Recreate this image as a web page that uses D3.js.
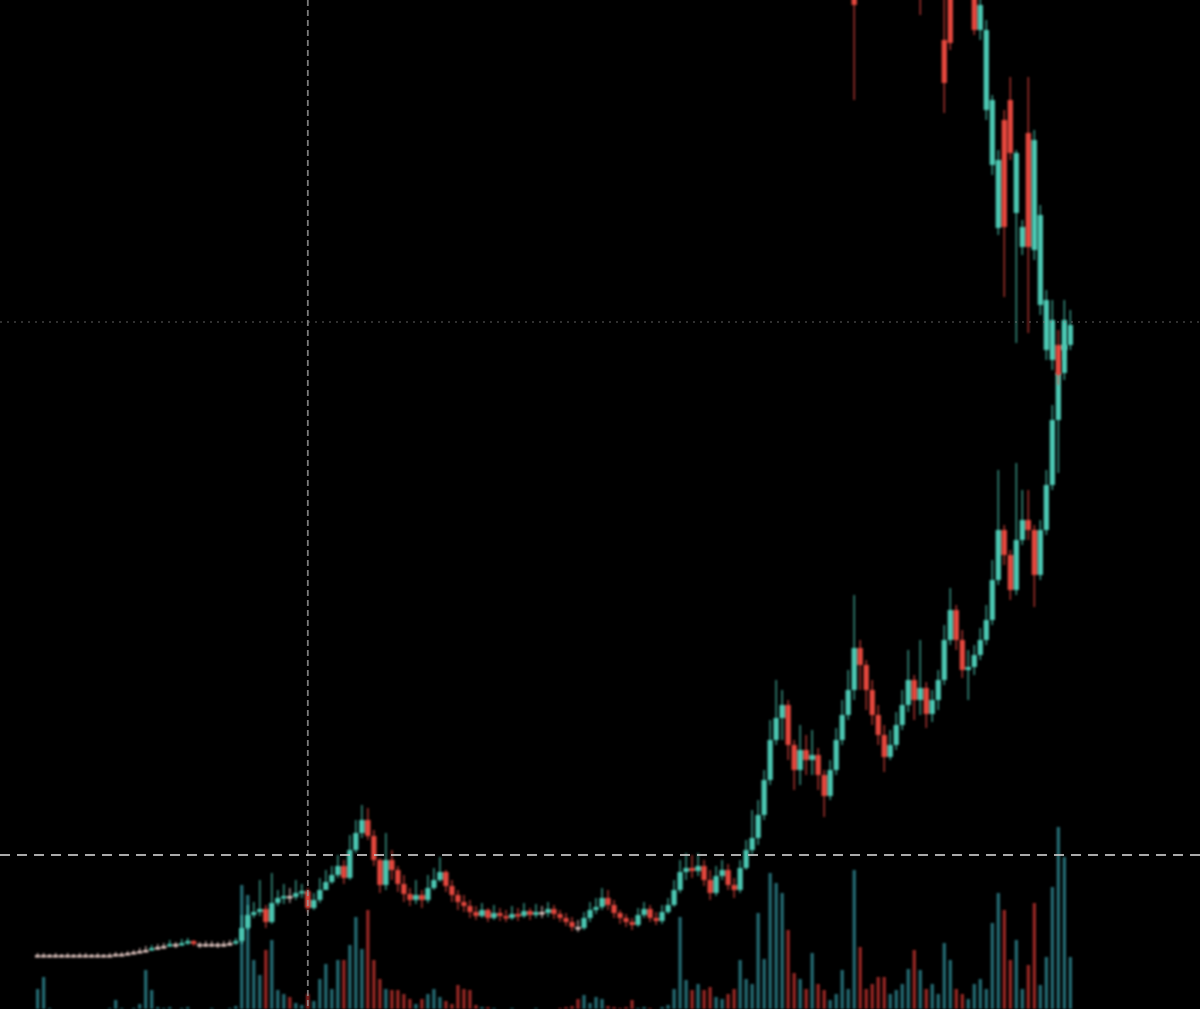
<!DOCTYPE html>
<html><head><meta charset="utf-8">
<script src="https://cdn.jsdelivr.net/npm/d3@7"></script>
<style>html,body{margin:0;padding:0;background:#000;overflow:hidden}</style>
</head><body>
<svg id="chart" width="1200" height="1009"></svg>
<script>
// ---------- DATA ----------
const periods = d3.range(1, 174); // 173 sessions

const closes = [4.5,4.5,4.5,4.5,4.4,4.5,4.5,4.5,4.5,4.4,4.5,4.5,4.5,4.6,4.6,4.7,4.8,4.9,5.0,5.2,
5.3,5.4,5.6,5.5,5.7,5.9,5.6,5.5,5.6,5.6,5.5,5.6,5.7,5.9,7.2,8.5,8.8,9.1,7.8,9.7,
10.2,10.4,10.3,10.7,10.9,9.2,10.0,11.0,11.8,12.5,13.4,12.2,15.0,16.7,18.0,16.4,14.0,11.5,14.0,13.0,
11.6,10.6,10.0,10.5,10.0,11.2,12.0,12.8,11.4,10.5,9.8,9.4,8.8,8.4,9.0,8.2,8.7,8.4,8.2,8.6,
8.4,8.9,8.5,8.8,8.7,9.1,8.6,8.2,7.8,7.3,7.2,8.2,9.0,9.3,10.2,9.5,8.7,8.2,7.8,7.5,
8.5,9.1,8.2,7.9,8.8,9.5,11.0,12.8,13.2,12.9,13.4,12.0,10.7,12.4,13.0,11.5,11.0,13.2,15.0,16.2,
18.5,22.0,26.0,28.2,29.5,25.5,23.0,25.0,24.0,24.5,22.5,20.4,23.0,26.0,28.5,31.0,35.2,33.5,31.0,28.5,
26.5,24.3,25.5,27.5,29.5,32.0,30.0,31.2,28.6,30.0,32.0,36.0,39.0,36.0,33.0,33.3,34.5,36.0,38.0,42.0,
47.0,44.5,41.0,46.0,48.0,47.0,42.5,47.0,51.5,58.0,62.7,65.5,67.5];

const highs = [4.7,4.7,4.6,4.7,4.6,4.7,4.6,4.7,4.7,4.6,4.7,4.6,4.7,4.8,4.8,4.9,5.0,5.2,5.4,5.5,
5.6,5.7,6.0,5.8,6.1,6.2,6.0,5.8,5.9,5.9,5.8,5.9,6.0,6.2,8.5,9.5,9.8,12.0,9.5,12.7,
11.0,11.6,11.2,12.0,11.6,11.2,10.7,12.2,13.0,13.4,14.5,14.0,16.5,18.0,19.5,19.2,17.0,14.2,16.7,15.0,
13.4,12.5,11.2,12.0,11.0,12.5,13.2,14.3,13.0,12.0,11.0,10.5,10.0,9.4,9.7,9.2,9.5,9.2,9.0,9.4,
9.2,9.7,9.2,9.6,9.4,9.8,9.5,9.0,8.7,8.3,8.0,8.8,9.8,10.2,11.2,11.0,10.0,9.0,8.6,8.2,
9.2,9.8,9.5,8.8,9.5,10.2,12.0,14.0,14.7,14.5,14.7,14.0,13.0,13.4,14.0,13.6,12.2,14.0,16.0,19.0,
20.0,23.0,28.0,32.0,31.0,30.0,26.0,27.5,26.5,27.0,25.2,23.0,24.0,27.2,30.0,33.0,40.5,36.0,34.0,32.0,
29.5,27.5,27.0,28.8,31.0,35.0,32.5,36.0,31.8,31.0,33.0,37.5,41.2,39.5,37.0,35.0,35.5,37.2,39.5,44.0,
53.0,47.5,45.0,53.7,51.0,51.0,47.5,48.0,53.0,59.5,64.0,67.5,69.0];

const lows = [4.3,4.3,4.4,4.3,4.3,4.3,4.4,4.3,4.3,4.3,4.3,4.4,4.3,4.4,4.4,4.5,4.6,4.7,4.8,4.9,
5.0,5.1,5.3,5.2,5.4,5.5,5.4,5.2,5.3,5.3,5.2,5.3,5.4,5.5,5.6,7.0,8.2,8.4,7.2,7.6,
9.4,9.6,9.7,10.0,10.2,8.8,9.0,9.7,11.0,11.6,12.2,11.6,12.0,14.7,16.2,16.0,13.4,10.7,11.0,12.0,
10.8,9.8,9.4,9.6,9.2,9.7,11.0,11.8,10.8,9.8,9.0,8.8,8.2,8.0,8.2,7.8,8.0,7.9,7.8,8.0,
7.9,8.2,8.0,8.2,8.2,8.3,8.1,7.8,7.4,6.9,6.8,7.0,7.8,8.6,9.0,9.0,8.2,7.6,7.3,7.0,
7.3,8.2,7.8,7.5,7.6,8.6,9.3,10.7,12.0,12.2,12.4,11.4,10.0,10.4,12.0,11.0,10.2,10.7,13.0,14.5,
15.5,18.0,21.5,25.5,26.0,24.0,21.0,21.5,22.5,22.5,21.0,18.3,20.0,22.5,25.5,28.0,30.0,31.0,29.0,27.5,
25.5,22.8,24.0,25.0,27.0,28.8,28.0,28.5,27.2,27.8,29.0,31.5,35.5,35.0,32.2,30.0,32.5,34.0,35.5,37.5,
41.5,43.5,40.0,40.5,45.5,46.0,39.3,42.0,46.5,51.0,52.7,62.0,65.0];

const volumes = [2.0,3.2,0.1,0.0,0.0,0.0,0.0,0.0,0.0,0.0,0.0,0.0,0.1,0.9,0.1,0.0,0.1,0.5,3.9,1.9,
0.2,0.1,0.2,0.0,0.1,0.2,0.0,0.0,0.0,0.1,0.0,0.0,0.1,0.3,12.4,11.4,4.9,3.4,5.9,6.9,
1.9,1.5,1.2,0.6,0.4,1.5,0.8,3.0,4.5,2.0,4.9,4.9,6.4,9.2,6.0,9.9,4.9,3.0,2.0,1.9,
1.9,1.5,1.0,0.5,1.0,1.5,2.0,1.2,0.8,0.5,2.4,2.0,1.9,0.4,0.2,0.2,0.1,0.0,0.0,0.1,
0.0,0.0,0.0,0.1,0.0,0.0,0.0,0.1,0.2,0.3,1.0,1.4,0.6,1.2,1.0,0.3,0.2,0.1,0.2,0.9,
0.1,0.2,0.1,0.0,0.2,0.4,2.0,9.2,2.9,1.9,2.5,1.9,2.2,1.2,1.0,1.5,2.0,4.9,3.0,2.5,
9.6,5.0,13.6,12.6,11.6,7.9,3.6,3.0,2.0,5.6,2.5,1.9,0.9,1.5,3.9,2.0,13.9,6.2,2.0,2.5,
3.2,3.2,1.5,1.9,2.5,4.0,5.9,3.9,2.0,2.5,1.5,6.6,4.9,2.0,1.5,1.0,2.5,3.0,2.0,8.6,
11.6,9.9,4.9,6.9,2.0,4.4,10.6,2.4,5.2,12.2,18.2,15.2,5.2];

// second (upper) trace, sessions where it is visible
const upperPeriods = [137,148,152,153,157,158,159,160,161,162,163,164,165,166,167,168,169,170,171,172];
const upperOpen  = [101.0,104.0,96.0,101.0,100.5,97.0,89.0,83.5,77.2,88.0,90.0,78.7,75.3,86.7,75.0,69.5,65.0,64.0,65.5,65.0];
const upperClose = [99.5,102.0,91.7,95.7,97.0,99.5,97.0,90.0,84.0,77.3,84.7,84.7,77.3,75.3,86.0,78.5,70.0,68.0,62.5,68.0];
const upperHigh  = [102.0,105.0,101.0,102.0,102.0,101.0,98.0,90.5,85.0,89.0,92.3,85.0,78.0,92.3,87.0,79.5,71.0,70.0,67.0,70.0];
const upperLow   = [90.0,98.5,88.7,95.0,96.5,96.0,88.0,82.5,76.5,70.3,84.0,65.7,74.5,66.7,74.0,68.5,64.0,63.0,61.5,64.0];

const crosshairPeriod = 46;
const dashedLevel = 14.5;
const dottedLevel = 67.8;

// ---------- BUILD ----------
const main = periods.map((p, i) => ({
  p, o: i === 0 ? closes[0] : closes[i - 1], c: closes[i], h: highs[i], l: lows[i], v: volumes[i]
}));
const upper = upperPeriods.map((p, i) => ({
  p, o: upperOpen[i], c: upperClose[i], h: upperHigh[i], l: upperLow[i]
}));

const svg = d3.select("#chart");
svg.append("rect").attr("width", 1200).attr("height", 1009).attr("fill", "#000");

const x = d3.scaleBand().domain(periods).range([35, 1073]).paddingInner(0.12);
const y = d3.scaleLinear().domain([0, 100]).range([1000, 0]);
const vy = d3.scaleLinear().domain([0, 20]).range([1009, 809]);
const cx = p => x(p) + x.bandwidth() / 2;

const UP = "#4cc8b2", DOWN = "#e4463d", FLAT = "#e2c7c2";
const VUP = "#2a7a83", VDOWN = "#ad2b29";
const col = d => Math.abs(d.c - d.o) < 0.15 ? FLAT : (d.c >= d.o ? UP : DOWN);

const defs = svg.append("defs");
defs.append("filter").attr("id", "soft").append("feGaussianBlur").attr("stdDeviation", 0.9);

// volume
const vw = x.bandwidth() * 0.6;
svg.append("g").attr("filter", "url(#soft)")
  .selectAll("rect").data(main.filter(d => d.v > 0)).join("rect")
  .attr("x", d => cx(d.p) - vw / 2)
  .attr("width", vw)
  .attr("y", d => vy(d.v))
  .attr("height", d => vy(0) - vy(d.v))
  .attr("fill", d => d.c >= d.o ? VUP : VDOWN)
  .attr("opacity", 0.9);

function drawCandles(data) {
  const g = svg.append("g").attr("filter", "url(#soft)");
  g.selectAll("line").data(data).join("line")
    .attr("x1", d => cx(d.p)).attr("x2", d => cx(d.p))
    .attr("y1", d => y(Math.max(d.h, d.o, d.c)))
    .attr("y2", d => y(Math.min(d.l, d.o, d.c)))
    .attr("stroke", col).attr("stroke-width", 1.4).attr("opacity", 0.8);
  g.selectAll("rect").data(data).join("rect")
    .attr("x", d => x(d.p))
    .attr("width", x.bandwidth())
    .attr("y", d => y(Math.max(d.o, d.c)))
    .attr("height", d => Math.max(2.5, Math.abs(y(d.o) - y(d.c))))
    .attr("fill", col);
}
drawCandles(main);
drawCandles(upper);

// crosshair / levels
svg.append("line")
  .attr("x1", cx(crosshairPeriod)).attr("x2", cx(crosshairPeriod))
  .attr("y1", 0).attr("y2", 1009)
  .attr("stroke", "#9a9a9a").attr("stroke-width", 1.8)
  .attr("stroke-dasharray", "6,4").attr("opacity", 0.8);
svg.append("line")
  .attr("x1", 0).attr("x2", 1200)
  .attr("y1", y(dashedLevel)).attr("y2", y(dashedLevel))
  .attr("stroke", "#c8c8c8").attr("stroke-width", 1.8)
  .attr("stroke-dasharray", "10,7").attr("opacity", 0.85);
svg.append("line")
  .attr("x1", 0).attr("x2", 1200)
  .attr("y1", y(dottedLevel)).attr("y2", y(dottedLevel))
  .attr("stroke", "#8a8a8a").attr("stroke-width", 1.2)
  .attr("stroke-dasharray", "2,5").attr("opacity", 0.7);
</script>
</body></html>
